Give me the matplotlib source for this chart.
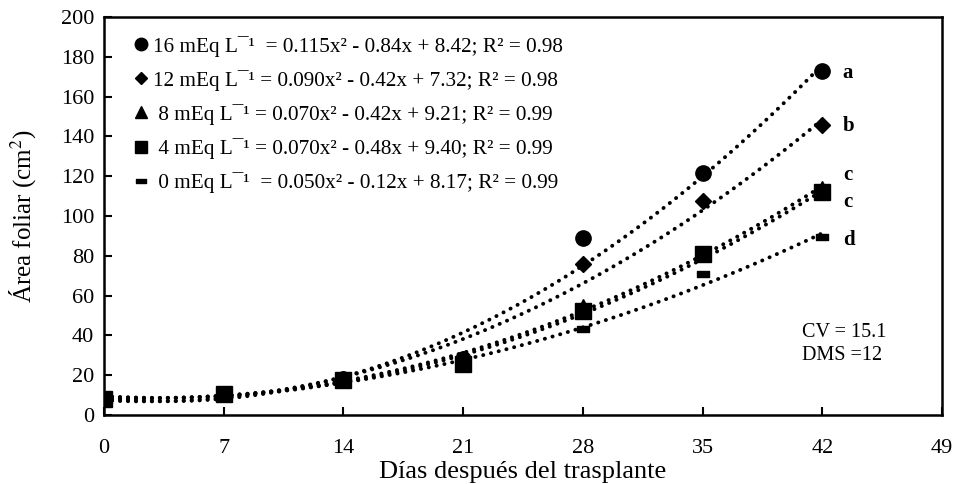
import numpy as np
import matplotlib
matplotlib.use("Agg")
import matplotlib.pyplot as plt
from matplotlib.path import Path

plt.rcParams['font.family'] = ['Liberation Serif', 'DejaVu Serif']
plt.rcParams['mathtext.fontset'] = 'stix'

# ---- data ----
days = [0, 7, 14, 21, 28, 35, 42]
treatments = ["16", "12", "8", "4", "0"]
v16 = [8, 10.5, 18, 28, 89, 121.5, 173]
v12 = [8, 10.5, 18, 28, 76, 107.5, 145.5]
v8 = [8, 10.5, 18, 28.5, 55, 81, 114]
v4 = [8, 10.5, 17.5, 25.5, 52.5, 81, 112]
v0 = [8, 10, 17.5, 27, 43, 71, 89.5]
series = [v16, v12, v8, v4, v0]
# trendline coefficients (a, b, c) and R² as printed in the legend
coef_a = [0.115, 0.090, 0.070, 0.070, 0.050]
coef_b = [-0.84, -0.42, -0.42, -0.48, -0.12]
coef_c = [8.42, 7.32, 9.21, 9.40, 8.17]
r2 = [0.98, 0.98, 0.99, 0.99, 0.99]
labels = [
    "16 mEq L\u00af\u00b9  = 0.115x\u00b2 - 0.84x + 8.42; R\u00b2 = 0.98",
    "12 mEq L\u00af\u00b9 = 0.090x\u00b2 - 0.42x + 7.32; R\u00b2 = 0.98",
    " 8 mEq L\u00af\u00b9 = 0.070x\u00b2 - 0.42x + 9.21; R\u00b2 = 0.99",
    " 4 mEq L\u00af\u00b9 = 0.070x\u00b2 - 0.48x + 9.40; R\u00b2 = 0.99",
    " 0 mEq L\u00af\u00b9  = 0.050x\u00b2 - 0.12x + 8.17; R\u00b2 = 0.99",
]
letters = ["a", "b", "c", "c", "d"]
letter_y = [172, 145, 120.5, 107, 88]
xticks = [0, 7, 14, 21, 28, 35, 42, 49]
yticks = list(range(0, 201, 20))

dash = Path([(-1, -0.45), (1, -0.45), (1, 0.45), (-1, 0.45), (-1, -0.45)],
            [Path.MOVETO, Path.LINETO, Path.LINETO, Path.LINETO, Path.CLOSEPOLY])
markers = ['o', 'D', '^', 's', dash]
msizes = [11, 8, 10, 11, 9]
leg_sizes = [9, 6.5, 8, 9, 7]

fig = plt.figure(figsize=(9.56, 4.84), dpi=100)
ax = fig.add_axes([0.1088, 0.1426, 0.8766, 0.8223])

xs = np.linspace(0, 42, 200)
handles = []
for i, vals in enumerate(series):
    yfit = coef_a[i] * xs**2 + coef_b[i] * xs + coef_c[i]
    ax.plot(xs, yfit, color='black', lw=2.8, linestyle=(0, (0.05, 2.0)),
            dash_capstyle='round', zorder=2)
    ax.plot(days, vals, linestyle='none', marker=markers[i], markersize=msizes[i],
            color='black', zorder=3)
    h, = ax.plot([], [], linestyle='none', marker=markers[i], markersize=leg_sizes[i],
                 color='black', label=labels[i])
    handles.append(h)

for l, yy in zip(letters, letter_y):
    ax.text(43.2, yy, l, fontsize=15, fontweight='bold', va='center', ha='left')

ax.text(40.8, 41.5, "CV = 15.1", fontsize=14.5, va='center', ha='left')
ax.text(40.8, 30, "DMS =12", fontsize=14.5, va='center', ha='left')

leg = ax.legend(handles=handles, loc='upper left', bbox_to_anchor=(0.02, 0.99),
                frameon=False, fontsize=15.3, handlelength=0.5, handletextpad=0.3,
                labelspacing=0.62, borderpad=0.2)

ax.set_xlim(0, 49)
ax.set_ylim(0, 200)
ax.set_xticks(xticks)
ax.set_yticks(yticks)
ax.tick_params(direction='in', length=6, width=1.5, labelsize=16)
ax.tick_params(axis='x', pad=17)
ax.tick_params(axis='y', pad=7)
for s in ax.spines.values():
    s.set_linewidth(1.8)
ax.set_xlabel("Días después del trasplante", fontsize=19, va='center')
ax.xaxis.set_label_coords(0.5, -0.143)
ax.set_ylabel("Área foliar (cm$^2$)", fontsize=18, va='center')
ax.yaxis.set_label_coords(-0.097, 0.5)

fig.savefig("out.png", dpi=100)
